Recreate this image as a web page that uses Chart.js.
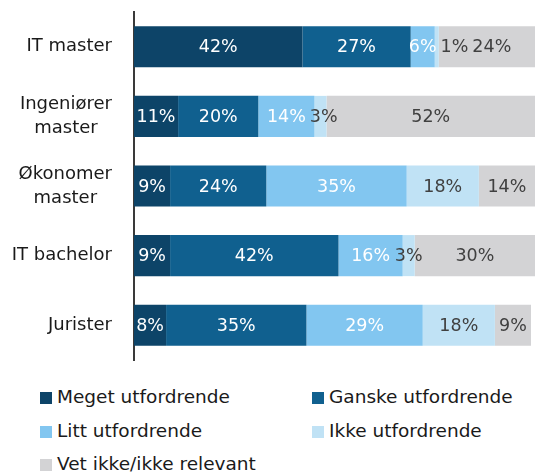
<!DOCTYPE html>
<html>
<head>
<meta charset="utf-8">
<script src="https://cdn.jsdelivr.net/npm/chart.js@4/dist/chart.umd.min.js"></script>
<style>
  html, body { margin: 0; padding: 0; background: #fff; overflow: hidden; }
  #wrap { position: relative; width: 535px; height: 472px; }
  #legend { position: absolute; left: 0; top: 387px; width: 535px; font-family: "DejaVu Sans", sans-serif; font-size: 18.5px; color: #1a1a1a; }
  .item { position: absolute; white-space: nowrap; line-height: 20px; }
  .sw { display: inline-block; width: 12px; height: 12px; margin-right: 5px; vertical-align: -1px; }
</style>
</head>
<body>
<div id="wrap">
  <canvas id="grafico" width="535" height="372"></canvas>
  <div id="legend"></div>
</div>
<script>
// Kategorier (hver linje er en egen rad i etiketten)
const kategorier = [["IT master"], ["Ingeniører", "master"], ["Økonomer", "master"], ["IT bachelor"], ["Jurister"]];

// Serier
const serier = ["Meget utfordrende", "Ganske utfordrende", "Litt utfordrende", "Ikke utfordrende", "Vet ikke/ikke relevant"];
const meget  = [42, 11, 9, 9, 8];
const ganske = [27, 20, 24, 42, 35];
const litt   = [6, 14, 35, 16, 29];
const ikke   = [1, 3, 18, 3, 18];
const vetIkke = [24, 52, 14, 30, 9];

const farger = ["#0d4468", "#10608f", "#82c6f0", "#c0e2f5", "#d3d3d5"];
const tekstFarger = ["#ffffff", "#ffffff", "#ffffff", "#404040", "#404040"];
const fontFamilie = '"DejaVu Sans", sans-serif';

// Etiketter på y-aksen: blokk høyrejustert, linjene sentrert i blokken
const yEtiketter = {
  id: "yEtiketter",
  afterDraw(chart) {
    const ctx = chart.ctx;
    const y = chart.scales.y;
    const hoyreKant = 112;
    const linjeHoyde = 24;
    ctx.save();
    ctx.font = "18px " + fontFamilie;
    ctx.fillStyle = "#1a1a1a";
    ctx.textBaseline = "middle";
    ctx.textAlign = "center";
    kategorier.forEach((linjer, i) => {
      const bredde = Math.max(...linjer.map(l => ctx.measureText(l).width));
      const midtX = hoyreKant - bredde / 2;
      const midtY = y.getPixelForValue(i);
      const start = midtY - (linjer.length - 1) * linjeHoyde / 2;
      linjer.forEach((l, j) => ctx.fillText(l, midtX, start + j * linjeHoyde));
    });
    ctx.restore();
  }
};

// Verdietiketter midt i hvert segment, skyves til høyre ved overlapp
const verdiEtiketter = {
  id: "verdiEtiketter",
  afterDatasetsDraw(chart) {
    const ctx = chart.ctx;
    ctx.save();
    ctx.font = "17.5px " + fontFamilie;
    ctx.textBaseline = "middle";
    ctx.textAlign = "center";
    const antall = chart.data.labels.length;
    for (let i = 0; i < antall; i++) {
      let forrigeHoyre = -Infinity;
      chart.data.datasets.forEach((ds, d) => {
        const bar = chart.getDatasetMeta(d).data[i];
        const tekst = ds.data[i] + "%";
        const b = ctx.measureText(tekst).width;
        let x = (bar.x + bar.base) / 2;
        if (x - b / 2 < forrigeHoyre + 4) x = forrigeHoyre + 4 + b / 2;
        forrigeHoyre = x + b / 2;
        ctx.fillStyle = tekstFarger[d];
        ctx.fillText(tekst, x, bar.y + 1);
      });
    }
    ctx.restore();
  }
};

const ctx = document.getElementById("grafico").getContext("2d");
new Chart(ctx, {
  type: "bar",
  data: {
    labels: kategorier.map(k => k.join(" ")),
    datasets: [meget, ganske, litt, ikke, vetIkke].map((verdier, i) => ({
      label: serier[i],
      data: verdier,
      backgroundColor: farger[i],
      borderWidth: 0,
      categoryPercentage: 1,
      barPercentage: 0.59
    }))
  },
  options: {
    indexAxis: "y",
    responsive: false,
    animation: false,
    layout: { padding: { left: 134, right: 0, top: 12, bottom: 12 } },
    plugins: {
      legend: { display: false },
      tooltip: { enabled: false }
    },
    scales: {
      x: { stacked: true, min: 0, max: 100, display: false },
      y: {
        stacked: true,
        grid: { display: false, drawTicks: false },
        border: { display: true, color: "#3a3a3a", width: 2 },
        ticks: { display: false }
      }
    }
  },
  plugins: [yEtiketter, verdiEtiketter]
});

// Forklaring i to kolonner
const posisjoner = [[40, 0], [312, 0], [40, 34], [312, 34], [40, 67]];
const legend = document.getElementById("legend");
serier.forEach((navn, i) => {
  const el = document.createElement("div");
  el.className = "item";
  el.style.left = posisjoner[i][0] + "px";
  el.style.top = posisjoner[i][1] + "px";
  el.innerHTML = '<span class="sw" style="background:' + farger[i] + '"></span>' + navn;
  legend.appendChild(el);
});
</script>
</body>
</html>
